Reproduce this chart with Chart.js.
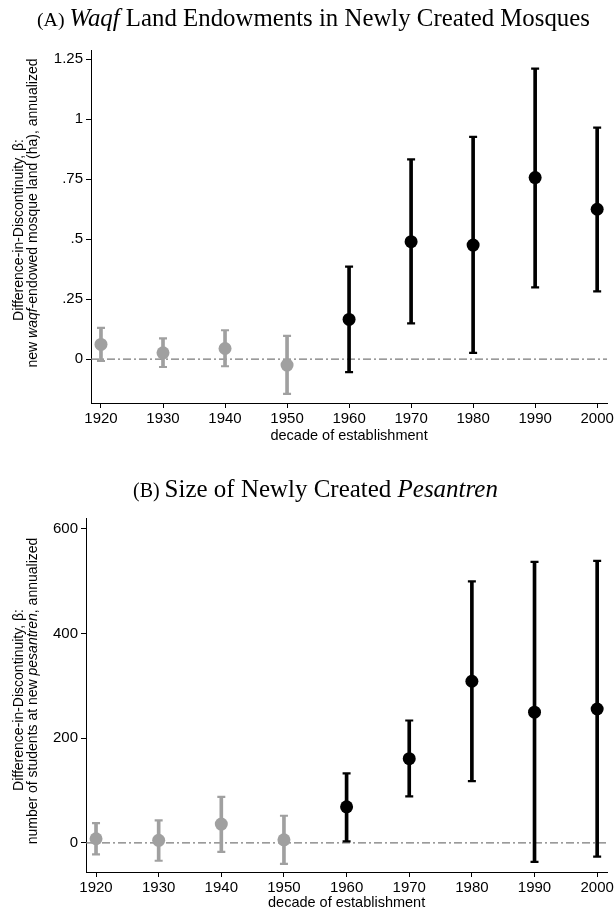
<!DOCTYPE html>
<html><head><meta charset="utf-8">
<script src="https://cdn.jsdelivr.net/npm/chart.js@4/dist/chart.umd.min.js"></script>
<style>
html,body{margin:0;padding:0;background:#fff;}
#wrap{position:relative;width:616px;height:909px;overflow:hidden;background:#fff;}
canvas{position:absolute;left:0;}
</style></head><body>
<div id="wrap">
<canvas id="cA" width="616" height="445" style="top:0;width:616px;height:445px"></canvas>
<canvas id="cB" width="616" height="464" style="top:445px;width:616px;height:464px"></canvas>
</div>
<script>
// ---------- data ----------
const decades = [1920, 1930, 1940, 1950, 1960, 1970, 1980, 1990, 2000];
const xTickLabels = ['1920', '1930', '1940', '1950', '1960', '1970', '1980', '1990', '2000'];
const xAxisTitle = 'decade of establishment';

// Panel A: waqf land (ha)
const waqfBeta = [0.061, 0.026, 0.044, -0.025, 0.165, 0.489, 0.475, 0.756, 0.624];
const waqfLow  = [-0.008, -0.033, -0.030, -0.145, -0.054, 0.149, 0.026, 0.299, 0.282];
const waqfHigh = [0.130, 0.086, 0.120, 0.097, 0.385, 0.832, 0.926, 1.210, 0.964];
const waqfTicks = [0, 0.25, 0.5, 0.75, 1, 1.25];
const waqfTickLabels = ['0', '.25', '.5', '.75', '1', '1.25'];

// Panel B: pesantren students
const pesBeta = [8, 5, 36, 6, 69, 161, 309, 250, 256];
const pesLow  = [-22, -34, -17, -40, 3, 89, 118, -36, -26];
const pesHigh = [38, 43, 88, 52, 133, 234, 500, 537, 539];
const pesTicks = [0, 200, 400, 600];
const pesTickLabels = ['0', '200', '400', '600'];

// ---------- style ----------
const GRAY = '#a0a0a0';
const BLACK = '#000000';
const colorFor = d => (d < 1960 ? GRAY : BLACK);
const SANS = '"Liberation Sans", Arial, Helvetica, sans-serif';
const SERIF = '"Liberation Serif", "Times New Roman", serif';

function titlePlugin(parts, startX, targetW, baseline) {
  return {
    id: 'panelTitle',
    afterDraw(chart) {
      const ctx = chart.ctx;
      ctx.save();
      const base = 20;
      const fontOf = (p, s) => (p.i ? 'italic ' : '') + (s * p.scale).toFixed(2) + 'px ' + SERIF;
      let w = 0;
      parts.forEach(p => { ctx.font = fontOf(p, base); w += ctx.measureText(p.t).width; });
      const s = base * targetW / w;
      let x = startX;
      ctx.fillStyle = '#000';
      ctx.textBaseline = 'alphabetic';
      parts.forEach(p => {
        ctx.font = fontOf(p, s);
        ctx.fillText(p.t, x, baseline);
        x += ctx.measureText(p.t).width;
      });
      ctx.restore();
    }
  };
}

function yTitlePlugin(lines) {
  return {
    id: 'yTitle',
    afterDraw(chart) {
      const ctx = chart.ctx;
      ctx.save();
      ctx.fillStyle = '#000';
      ctx.textBaseline = 'middle';
      lines.forEach(L => {
        let w = 0;
        L.parts.forEach(p => { ctx.font = (p.i ? 'italic ' : '') + '14px ' + SANS; w += ctx.measureText(p.t).width; });
        ctx.save();
        ctx.translate(L.x, L.cy);
        ctx.rotate(-Math.PI / 2);
        let x = -w / 2;
        L.parts.forEach(p => {
          ctx.font = (p.i ? 'italic ' : '') + '14px ' + SANS;
          ctx.fillText(p.t, x, 0);
          x += ctx.measureText(p.t).width;
        });
        ctx.restore();
      });
      ctx.restore();
    }
  };
}

function makeChart(canvasId, o) {
  const cols = decades.map(colorFor);
  const pts = decades.map((d, i) => ({ x: d, y: o.beta[i] }));
  const bars = decades.map((d, i) => ({ x: d, y: [o.low[i], o.high[i]] }));
  const caps = decades.map((d, i) => ({ x: d, y: o.high[i] })).concat(decades.map((d, i) => ({ x: d, y: o.low[i] })));
  const tickFont = { family: SANS, size: 15 };
  return new Chart(document.getElementById(canvasId), {
    type: 'scatter',
    data: {
      datasets: [
        { type: 'line', data: [{ x: o.xMin, y: 0 }, { x: o.xMax, y: 0 }], borderColor: '#7a7a7a',
          borderWidth: 1.3, borderDash: [8, 3, 2, 3], pointRadius: 0, order: 10 },
        { type: 'bar', data: bars, backgroundColor: cols, borderWidth: 0, barThickness: 3, order: 3 },
        { type: 'scatter', data: caps, pointStyle: 'line', pointRadius: 4, borderWidth: 2.2,
          borderColor: cols.concat(cols), backgroundColor: cols.concat(cols), order: 2 },
        { type: 'scatter', data: pts, pointRadius: 6.5, borderWidth: 0, backgroundColor: cols, order: 1 }
      ]
    },
    options: {
      responsive: false, animation: false, events: [],
      layout: { padding: o.padding },
      plugins: { legend: { display: false }, tooltip: { enabled: false }, title: { display: false } },
      scales: {
        x: {
          type: 'linear', min: o.xMin, max: o.xMax, offset: false,
          afterBuildTicks: s => { s.ticks = decades.map(v => ({ value: v })); },
          afterFit: s => { s.height = o.xHeight; },
          ticks: { autoSkip: false, maxRotation: 0, color: '#000', font: tickFont, padding: 2,
                   callback: (v, i) => xTickLabels[i] },
          grid: { offset: false, drawOnChartArea: false, drawTicks: true, tickLength: 5, tickColor: '#000', tickWidth: 1 },
          border: { display: true, color: '#000', width: 1 },
          title: { display: true, text: xAxisTitle, color: '#000', font: { family: SANS, size: 14.5, lineHeight: 1 },
                   padding: { top: 0, bottom: o.xTitlePad } }
        },
        y: {
          type: 'linear', min: o.yMin, max: o.yMax, offset: false,
          afterBuildTicks: s => { s.ticks = o.yTicks.map(v => ({ value: v })); },
          afterFit: s => { s.width = o.yWidth; },
          ticks: { autoSkip: false, color: '#000', font: tickFont, padding: 3,
                   callback: (v, i) => o.yTickLabels[i] },
          grid: { offset: false, drawOnChartArea: false, drawTicks: true, tickLength: 5, tickColor: '#000', tickWidth: 1 },
          border: { display: true, color: '#000', width: 1 },
          title: { display: false }
        }
      }
    },
    plugins: [titlePlugin(o.title, o.titleX, o.titleW, o.titleBase), yTitlePlugin(o.yTitle)]
  });
}

makeChart('cA', {
  beta: waqfBeta, low: waqfLow, high: waqfHigh,
  yMin: -0.183, yMax: 1.2875, yTicks: waqfTicks, yTickLabels: waqfTickLabels,
  xMin: 1918.39, xMax: 2001.61,
  padding: { top: 50, left: 0, right: 8, bottom: 2 }, xHeight: 40, yWidth: 91, xTitlePad: 0,
  title: [{ t: '(A) ', i: false, scale: 0.8 }, { t: 'Waqf', i: true, scale: 1 }, { t: ' Land Endowments in Newly Created Mosques', i: false, scale: 1 }],
  titleX: 37, titleW: 553, titleBase: 26,
  yTitle: [
    { x: 19, cy: 230, parts: [{ t: 'Difference-in-Discontinuity, \u03B2:', i: false }] },
    { x: 33, cy: 213, parts: [{ t: 'new ', i: false }, { t: 'waqf', i: true }, { t: '-endowed mosque land (ha), annualized', i: false }] }
  ]
});

makeChart('cB', {
  beta: pesBeta, low: pesLow, high: pesHigh,
  yMin: -55.5, yMax: 621, yTicks: pesTicks, yTickLabels: pesTickLabels,
  xMin: 1918.4, xMax: 2001.6,
  padding: { top: 73, left: 0, right: 8, bottom: 0 }, xHeight: 37, yWidth: 86, xTitlePad: -1,
  title: [{ t: '(B) ', i: false, scale: 0.8 }, { t: 'Size of Newly Created ', i: false, scale: 1 }, { t: 'Pesantren', i: true, scale: 1 }],
  titleX: 133, titleW: 365, titleBase: 52,
  yTitle: [
    { x: 19, cy: 255, parts: [{ t: 'Difference-in-Discontinuity, \u03B2:', i: false }] },
    { x: 33, cy: 246, parts: [{ t: 'number of students at new ', i: false }, { t: 'pesantren', i: true }, { t: ', annualized', i: false }] }
  ]
});
</script>
</body></html>
